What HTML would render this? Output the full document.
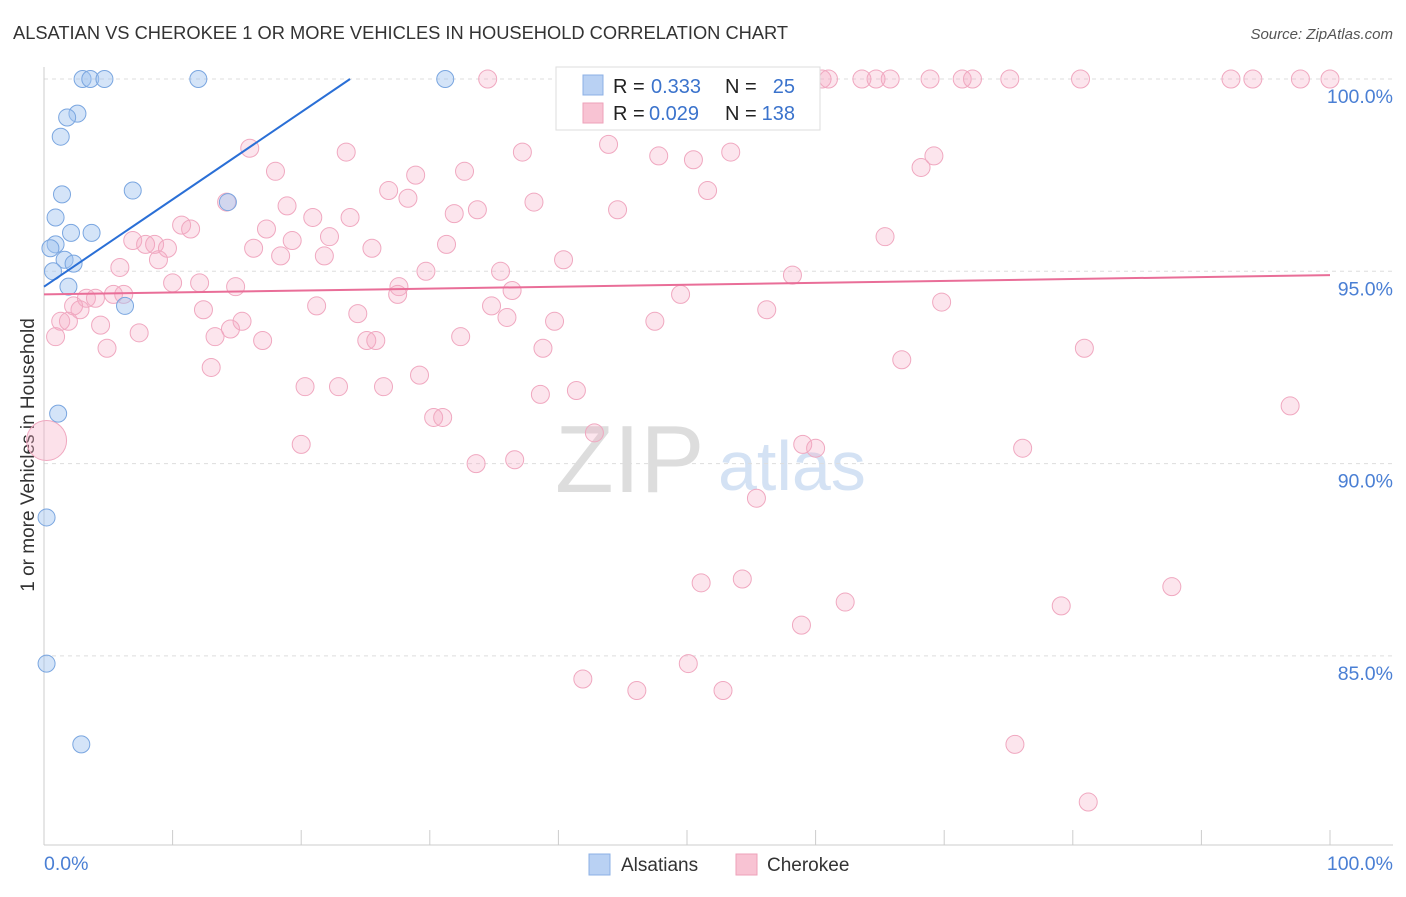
<!DOCTYPE html>
<html><head><meta charset="utf-8">
<style>
body{margin:0;background:#fff;font-family:"Liberation Sans",sans-serif;}
svg text{font-family:"Liberation Sans",sans-serif;}
</style></head>
<body>
<svg id="chart" width="1406" height="892" xmlns="http://www.w3.org/2000/svg">
<text x="13" y="39" font-size="18.3" fill="#333">ALSATIAN VS CHEROKEE 1 OR MORE VEHICLES IN HOUSEHOLD CORRELATION CHART</text>
<text x="1393" y="39" font-size="15" fill="#555" font-style="italic" text-anchor="end">Source: ZipAtlas.com</text>
<text transform="translate(34,455) rotate(-90)" font-size="19" fill="#333" text-anchor="middle">1 or more Vehicles in Household</text>
<g>
<text x="555" y="492" font-size="96" fill="#ddd" font-family="Liberation Serif,serif">ZIP</text>
<text x="718" y="490" font-size="70" fill="#d4e2f4">atlas</text>
</g>
<g id="grid"></g>
<g id="axes"></g>
<g id="points"></g>
<g id="trends"></g>
<g>
<rect x="556" y="67" width="264" height="63" fill="#fff" stroke="#ddd"/>
<rect x="583" y="75" width="20" height="20" fill="#b9d1f3" stroke="#8cb0e6"/>
<text x="613" y="93" font-size="20" fill="#222">R = </text>
<text x="651" y="93" font-size="20" fill="#3b73cc">0.333</text>
<text x="725" y="93" font-size="20" fill="#222">N = </text>
<text x="795" y="93" font-size="20" fill="#3b73cc" text-anchor="end">25</text>
<rect x="583" y="103" width="20" height="20" fill="#f8c3d3" stroke="#eea2b9"/>
<text x="613" y="120" font-size="20" fill="#222">R = </text>
<text x="649" y="120" font-size="20" fill="#3b73cc">0.029</text>
<text x="725" y="120" font-size="20" fill="#222">N = </text>
<text x="795" y="120" font-size="20" fill="#3b73cc" text-anchor="end">138</text>
</g>
<g>
<rect x="589" y="854" width="21" height="21" fill="#b9d1f3" stroke="#8cb0e6"/>
<text x="621" y="871" font-size="19" fill="#333">Alsatians</text>
<rect x="736" y="854" width="21" height="21" fill="#f8c3d3" stroke="#eea2b9"/>
<text x="767" y="871" font-size="19" fill="#333">Cherokee</text>
</g>
</svg>
<script>
const alsX=[3.0,3.6,4.7,12.0,31.2,2.6,1.8,1.3,1.4,6.9,0.9,14.3,3.7,2.1,0.9,0.5,1.6,2.3,0.7,1.9,6.3,1.1,0.2,0.2,2.9];
const alsY=[100,100,100,100,100,99.1,99.0,98.5,97.0,97.1,96.4,96.8,96.0,96.0,95.7,95.6,95.3,95.2,95.0,94.6,94.1,91.3,88.6,84.8,82.7];
const cheX=[34.5,46.8,52.3,54.3,60.5,61.0,63.6,64.7,65.8,68.9,71.4,72.2,75.1,80.6,92.3,94.0,97.7,100,42.2,43.9,47.8,50.5,53.4,69.2,68.2,51.6,16.0,23.5,37.2,18.0,28.9,32.7,26.8,28.3,38.1,44.6,14.2,18.9,20.9,23.8,31.9,33.7,10.7,11.4,17.3,22.2,6.9,7.9,8.6,9.6,19.3,25.5,31.3,65.4,16.3,18.4,21.8,40.4,8.9,5.9,29.7,35.5,10.0,12.1,14.9,58.2,27.6,36.4,5.4,6.2,3.3,4.0,27.5,49.5,69.8,2.8,2.3,21.2,12.4,34.8,24.4,56.2,1.3,1.9,4.4,15.4,36.0,39.7,47.5,14.5,7.4,0.9,13.3,17.0,25.1,25.8,32.4,4.9,38.8,80.9,66.7,13.0,29.2,20.3,22.9,26.4,38.6,41.4,96.9,30.3,31.0,42.8,20.0,59.0,60.0,76.1,33.6,36.6,55.4,51.1,54.3,62.3,79.1,87.7,58.9,50.1,41.9,46.1,52.8,75.5,81.2];
const cheY=[100,100,100,100,100,100,100,100,100,100,100,100,100,100,100,100,100,100,99.0,98.3,98.0,97.9,98.1,98.0,97.7,97.1,98.2,98.1,98.1,97.6,97.5,97.6,97.1,96.9,96.8,96.6,96.8,96.7,96.4,96.4,96.5,96.6,96.2,96.1,96.1,95.9,95.8,95.7,95.7,95.6,95.8,95.6,95.7,95.9,95.6,95.4,95.4,95.3,95.3,95.1,95.0,95.0,94.7,94.7,94.6,94.9,94.6,94.5,94.4,94.4,94.3,94.3,94.4,94.4,94.2,94.0,94.1,94.1,94.0,94.1,93.9,94.0,93.7,93.7,93.6,93.7,93.8,93.7,93.7,93.5,93.4,93.3,93.3,93.2,93.2,93.2,93.3,93.0,93.0,93.0,92.7,92.5,92.3,92.0,92.0,92.0,91.8,91.9,91.5,91.2,91.2,90.8,90.5,90.5,90.4,90.4,90.0,90.1,89.1,86.9,87.0,86.4,86.3,86.8,85.8,84.8,84.4,84.1,84.1,82.7,81.2];
const bigX=[0.2], bigY=[90.6];
const yTicks=[100,95,90,85];
const yTickLabels=["100.0%","95.0%","90.0%","85.0%"];
const alsTrend=[[0,94.6],[23.8,100]];
const cheTrend=[[0,94.4],[100,94.9]];
const NS="http://www.w3.org/2000/svg";
const X0=44,X1=1330,YTOP=79,PXPER=38.46;
const sx=v=>X0+(X1-X0)*v/100;
const sy=v=>YTOP+(100-v)*PXPER;
function mk(tag,attrs,parent){const e=document.createElementNS(NS,tag);for(const k in attrs)e.setAttribute(k,attrs[k]);parent.appendChild(e);return e;}
const grid=document.getElementById('grid'),axes=document.getElementById('axes');
yTicks.forEach((t,i)=>{
  const l=mk('line',{x1:44,x2:1393,y1:sy(t),y2:sy(t),stroke:'#ddd','stroke-dasharray':'4,4'},grid);
  
  
  const tx=mk('text',{x:1393,y:sy(t)+24,'font-size':19.5,fill:'#4a7fd4','text-anchor':'end'},axes);
  tx.textContent=yTickLabels[i];
  
  
});
const ya=mk('line',{x1:44,x2:44,y1:67,y2:845,stroke:'#ccc'},axes);


const xa=mk('line',{x1:44,x2:1393,y1:845,y2:845,stroke:'#ccc'},axes);


for(let i=0;i<=10;i++){const t=mk('line',{x1:sx(i*10),x2:sx(i*10),y1:830,y2:845,stroke:'#ccc'},axes);

}
const xl0=mk('text',{x:44,y:870,'font-size':19.5,fill:'#4a7fd4'},axes);xl0.textContent='0.0%';


const xl1=mk('text',{x:1393,y:870,'font-size':19.5,fill:'#4a7fd4','text-anchor':'end'},axes);xl1.textContent='100.0%';


const pts=document.getElementById('points');
cheX.forEach((x,i)=>{const c=mk('circle',{cx:sx(x),cy:sy(cheY[i]),r:9,fill:'rgba(245,170,195,0.3)',stroke:'#f0a8c0','stroke-width':1},pts);

});
bigX.forEach((x,i)=>{const c=mk('circle',{cx:sx(x),cy:sy(bigY[i]),r:20,fill:'rgba(245,170,195,0.35)',stroke:'#f0a8c0'},pts);

});
alsX.forEach((x,i)=>{const c=mk('circle',{cx:sx(x),cy:sy(alsY[i]),r:8.5,fill:'rgba(160,195,240,0.45)',stroke:'#7aa6e0','stroke-width':1},pts);

});
const tr=document.getElementById('trends');
const l1=mk('line',{x1:sx(alsTrend[0][0]),y1:sy(alsTrend[0][1]),x2:sx(alsTrend[1][0]),y2:sy(alsTrend[1][1]),stroke:'#2a6fd6','stroke-width':2},tr);


const l2=mk('line',{x1:sx(cheTrend[0][0]),y1:sy(cheTrend[0][1]),x2:sx(cheTrend[1][0]),y2:sy(cheTrend[1][1]),stroke:'#e96e98','stroke-width':2},tr);


</script>
</body></html>
